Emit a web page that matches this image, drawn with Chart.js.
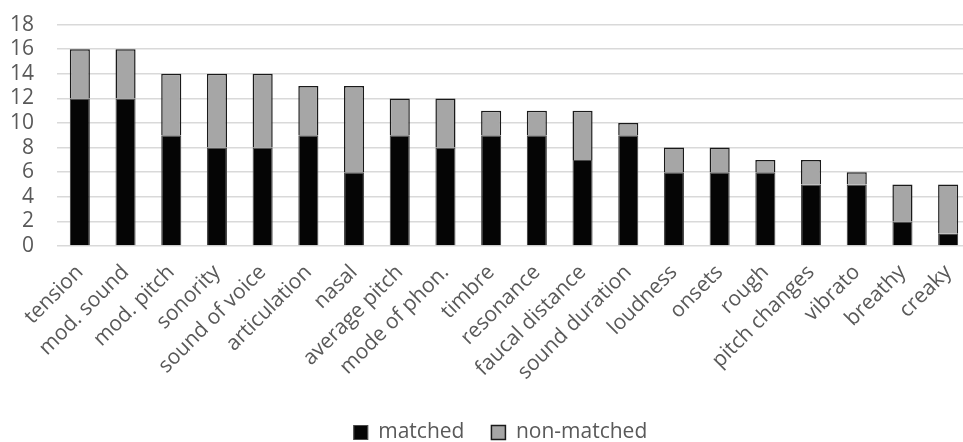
<!DOCTYPE html>
<html>
<head>
<meta charset="utf-8">
<script src="https://cdn.jsdelivr.net/npm/chart.js@4"></script>
<style>
  html, body { margin: 0; padding: 0; background: #fff; overflow: hidden; width: 963px; height: 442px; }
  #wrap { width: 972px; height: 453px; position: relative; margin-top: -11px; }
</style>
</head>
<body>
<div id="wrap"><canvas id="c"></canvas></div>
<script>
const categories = ["tension", "mod. sound", "mod. pitch", "sonority", "sound of voice", "articulation", "nasal", "average pitch", "mode of phon.", "timbre", "resonance", "faucal distance", "sound duration", "loudness", "onsets", "rough", "pitch changes", "vibrato", "breathy", "creaky"];
const matched =    [12, 12, 9, 8, 8, 9, 6, 9, 8, 9, 9, 7, 9, 6, 6, 6, 5, 5, 2, 1];
const nonMatched = [4, 4, 5, 6, 6, 4, 7, 3, 4, 2, 2, 4, 1, 2, 2, 1, 2, 1, 3, 4];
const yTicks = [0, 2, 4, 6, 8, 10, 12, 14, 16, 18];

const FONT = "'Open Sans', 'Noto Sans', sans-serif";
const TXT = '#595959';

const legendShift = {
  id: 'legendShift',
  afterLayout(chart) {
    const l = chart.legend;
    if (l) { l.left += 15; l.right += 15; }
  }
};

new Chart(document.getElementById('c'), {
  type: 'bar',
  data: {
    labels: categories,
    datasets: [
      { label: 'matched', data: matched, backgroundColor: '#050505', borderColor: '#4a4a4a', borderWidth: 1.2 },
      { label: 'non-matched', data: nonMatched, backgroundColor: '#a6a6a6', borderColor: '#1a1a1a', borderWidth: 1.5 }
    ]
  },
  plugins: [legendShift],
  options: {
    responsive: true,
    maintainAspectRatio: false,
    animation: false,
    datasets: { bar: { barPercentage: 0.44, categoryPercentage: 1.0 } },
    layout: { padding: { top: 0, right: 1, left: 0, bottom: -11 } },
    plugins: {
      tooltip: { enabled: false },
      legend: {
        position: 'bottom',
        labels: { font: { family: FONT, size: 21 }, color: TXT, boxWidth: 14, boxHeight: 14, padding: 27 }
      }
    },
    scales: {
      x: {
        stacked: true,
        grid: { display: false },
        border: { display: false },
        ticks: { font: { family: FONT, size: 21 }, color: TXT, maxRotation: 45, minRotation: 45, autoSkip: false, padding: 6 },
        afterFit: (s) => { s.height = 149; }
      },
      y: {
        stacked: true,
        min: 0, max: 18,
        afterBuildTicks: (s) => { s.ticks = yTicks.map(v => ({ value: v })); },
        grid: { color: '#d9d9d9', lineWidth: 1.5, drawTicks: false },
        border: { display: false },
        ticks: { font: { family: FONT, size: 21 }, color: TXT, padding: 23, autoSkip: false },
        afterFit: (s) => { s.width = 57; }
      }
    }
  }
});
</script>
</body>
</html>
